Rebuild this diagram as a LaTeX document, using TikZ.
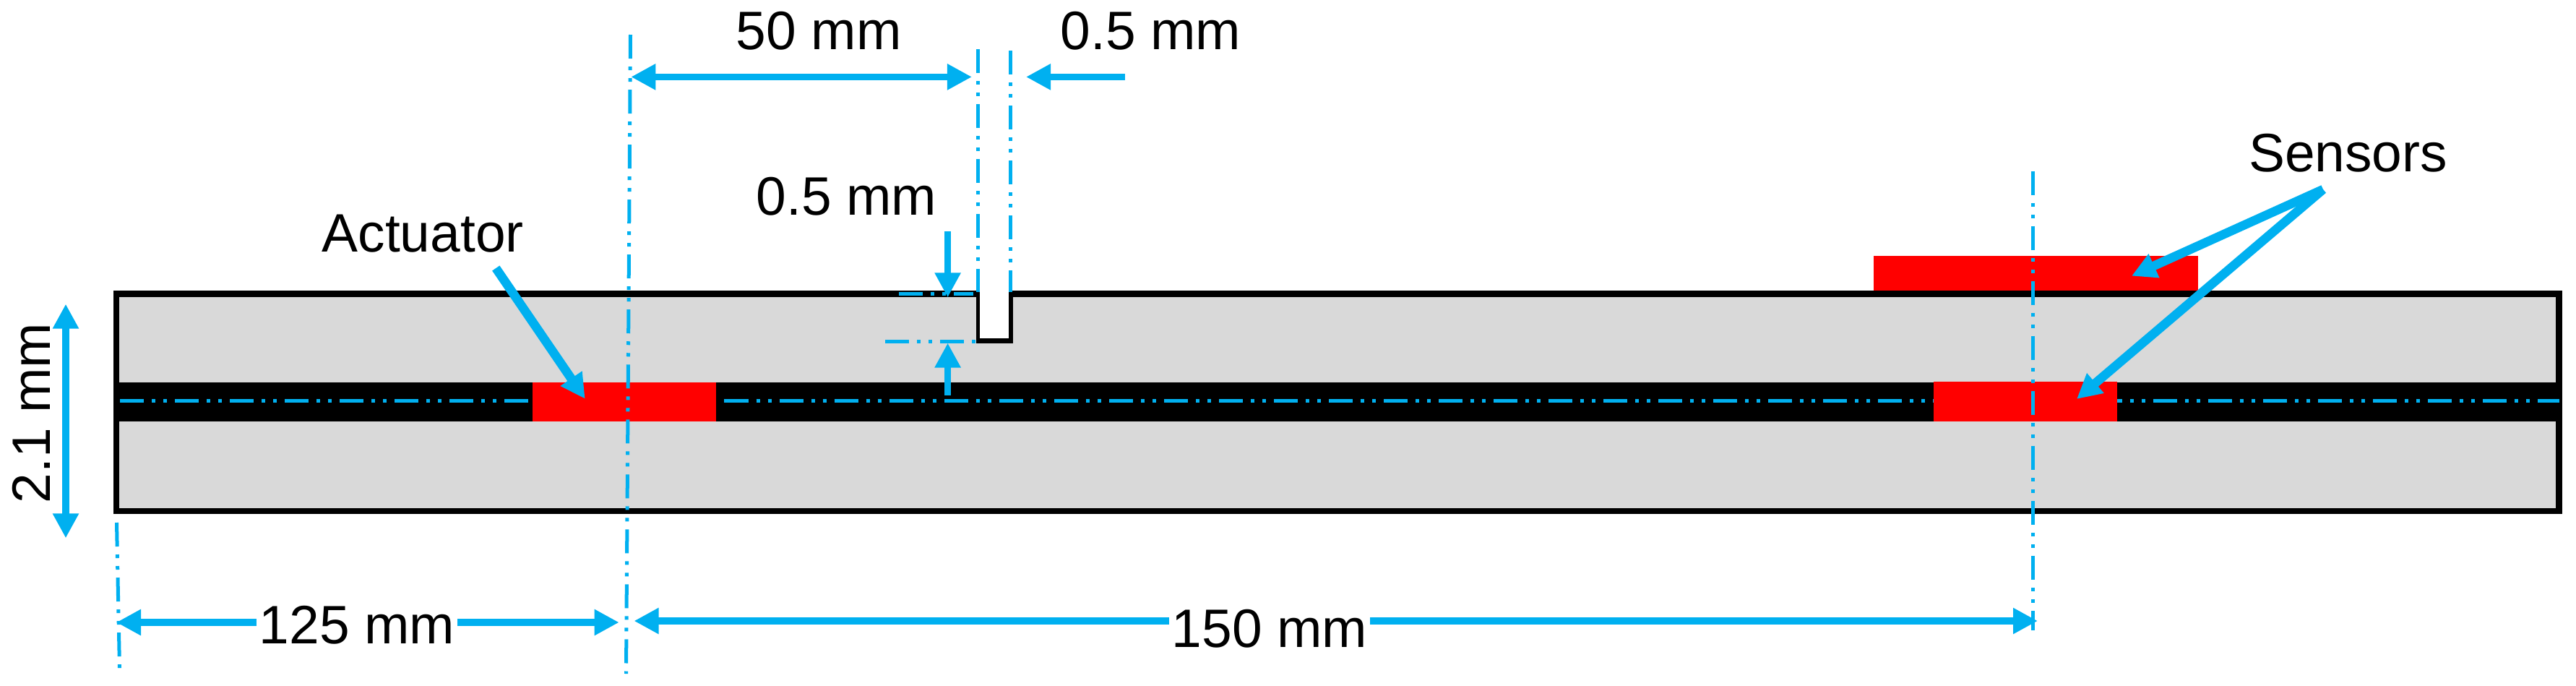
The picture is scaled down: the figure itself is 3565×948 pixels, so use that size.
\documentclass[tikz,border=0pt]{standalone}
\usepackage{fontspec}
\setmainfont{Liberation Sans}
\usetikzlibrary{arrows.meta}
\definecolor{dimblue}{HTML}{00B0F0}
\definecolor{plategray}{HTML}{D9D9D9}
\tikzset{
    headtip/.tip={Triangle[length=0.34cm,width=0.34cm]},
    dimline/.style={draw=dimblue, line width=0.095cm, -headtip},
    dimboth/.style={dimline, headtip-headtip},
    pointer/.style={draw=dimblue, line width=0.125cm, -headtip},
    centerline/.style={draw=dimblue, line width=0.05cm, dash pattern=on 0.33cm off 0.11cm on 0.05cm off 0.11cm on 0.05cm off 0.11cm},
    lbl/.style={inner sep=0pt, font=\fontsize{21.3}{25}\selectfont, anchor=base west},
    lblgap/.style={lbl, inner xsep=0.03cm}
}
\begin{document}
\begin{tikzpicture}[x=0.01cm,y=-0.01cm]
    \useasboundingbox (0,0) rectangle (3565,948);
    % plate
    \draw[fill=plategray, line width=0.085cm] (161,406.6) rectangle (3541.7,707);
    \fill[black] (161,529) rectangle (3541.7,583);
    \fill[black] (1351,402.5) rectangle (1402,474.5);
    \fill[white] (1355.8,400) rectangle (1395.5,467.7);
    \draw[centerline] (166,554.3) -- (3542,554.3);
    % actuator and sensors
    \fill[red] (737.4,529) rectangle (991.3,583);
    \fill[red] (2676,528) rectangle (2930,583);
    \fill[red] (2593,353.6) rectangle (3042,402);
    % extension lines
    \draw[centerline] (872.5,48) -- (866.5,932);
    \draw[centerline] (1353.3,68) -- (1353.3,404);
    \draw[centerline] (1398.4,70) -- (1398.4,404);
    \draw[centerline] (2813,236.5) -- (2813,871.6);
    \draw[centerline] (161.5,723) -- (165.5,925);
    \draw[centerline] (1244,406.4) -- (1347,406.4);
    \draw[centerline] (1225,472) -- (1350,472);
    % labels
    \node[lbl] (fiftyLbl) at (1018,68.5) {50 mm};
    \node[lbl] (slotWidthLbl) at (1467,68.5) {0.5 mm};
    \node[lbl] (slotDepthLbl) at (1046,297.7) {0.5 mm};
    \node[lbl] (actuatorLbl) at (445,348) {Actuator};
    \node[lbl] (sensorsLbl) at (3111.5,237.5) {Sensors};
    \node[lbl, rotate=90] (thickLbl) at (70,697) {2.1 mm};
    \node[lblgap] (leftLbl) at (355,890) {125 mm};
    \node[lblgap] (rightLbl) at (1618,895) {150 mm};
    % dimension arrows
    \coordinate (a1) at (873.3,106.4);
    \coordinate (a2) at (1345,106.4);
    \coordinate (a3) at (1557,106.4);
    \coordinate (a4) at (1420,106.4);
    \coordinate (a5) at (1311.6,320);
    \coordinate (a6) at (1311.6,411.4);
    \coordinate (a7) at (1311.6,547);
    \coordinate (a8) at (1311.6,474.5);
    \coordinate (a9) at (91,420.6);
    \coordinate (a10) at (91,744.4);
    \coordinate (a11) at (161,861);
    \coordinate (a12) at (856.7,861);
    \coordinate (a13) at (877.5,859);
    \coordinate (a14) at (2820,859);
    \draw[dimboth] (a1) -- (a2);
    \draw[dimline] (a3) -- (a4);
    \draw[dimline] (a5) -- (a6);
    \draw[dimline] (a7) -- (a8);
    \draw[dimboth] (a9) -- (a10);
    \draw[dimline] (leftLbl.west |- a11) -- (a11);
    \draw[dimline] (leftLbl.east |- a12) -- (a12);
    \draw[dimline] (rightLbl.west |- a13) -- (a13);
    \draw[dimline] (rightLbl.east |- a14) -- (a14);
    % pointers
    \coordinate (actTail) at (686.3,371);
    \coordinate (actTip) at (809.7,551.7);
    \coordinate (senTail) at (3215,262);
    \coordinate (senTipA) at (2950,381.7);
    \coordinate (senTipB) at (2874,552);
    \draw[pointer] (actTail) -- (actTip);
    \draw[pointer] (senTail) -- (senTipA);
    \draw[pointer] (senTail) -- (senTipB);
\end{tikzpicture}
\end{document}
